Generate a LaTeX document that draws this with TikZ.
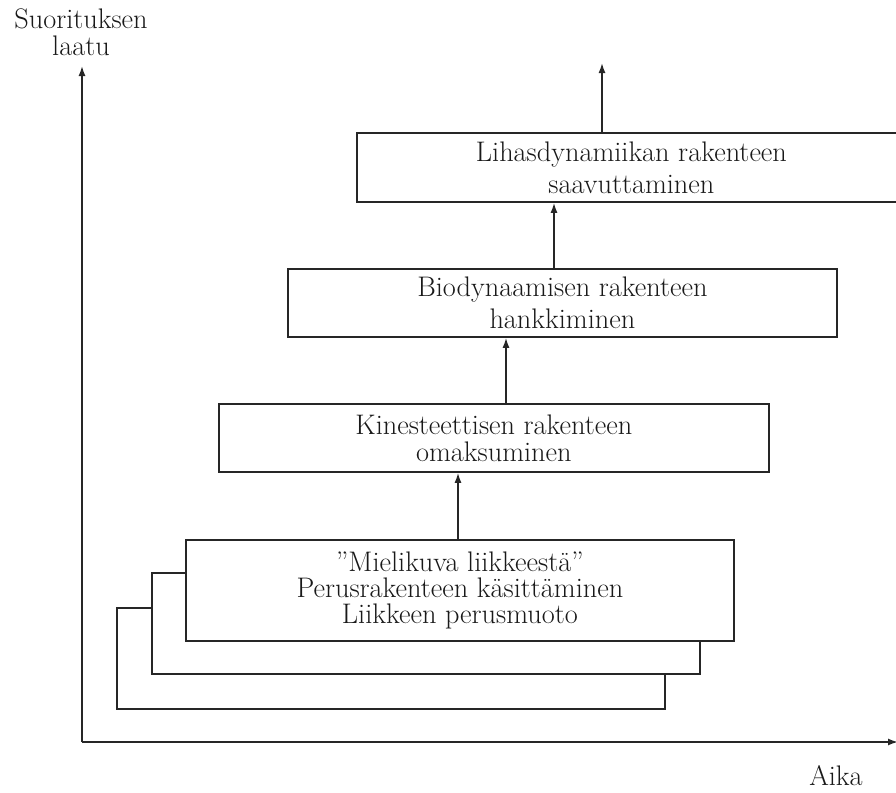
\documentclass[tikz,border=0pt]{standalone}
\usetikzlibrary{arrows.meta}
\begin{document}
\begin{tikzpicture}[x=1pt,y=-1pt,
  ink/.style={draw=black!85, line width=1.8pt},
  box/.style={ink, fill=white, anchor=north west, inner sep=0pt, align=center, text=black!90},
  txt/.style={font=\fontsize{28.3}{32}\selectfont, text=black!90, inner sep=0pt},
  arr/.style={draw=black!85, line width=1.6pt, -{Latex[length=10pt,width=7pt]}}]
\useasboundingbox (0,0) rectangle (896,792);
\clip (0,0) rectangle (896,792);
% axes
\coordinate (origin) at (82,742);
\coordinate (ytip) at (82,66);
\coordinate (xtip) at (898,742);
\draw[arr] (origin) -- (ytip);
\draw[arr] (origin) -- (xtip);
\node[txt, anchor=base] (ylab1) at (81,29) {Suorituksen};
\node[txt, anchor=base] (ylab2) at (81,56) {laatu};
\node[txt, anchor=base] (xlab) at (836,785) {Aika};
% stacked base boxes
\node[box, minimum width=548pt, minimum height=101pt] (back3) at (116,607) {};
\node[box, minimum width=548pt, minimum height=101pt] (back2) at (151,572) {};
\node[box, minimum width=548pt, minimum height=101pt, font=\fontsize{28.3}{26}\selectfont] (front) at (185,539)
  {''Mielikuva liikkeestä''\\Perusrakenteen käsittäminen\\Liikkeen perusmuoto};
% upper boxes
\node[box, minimum width=550pt, minimum height=68pt, font=\fontsize{28.3}{27}\selectfont] (kin) at (218,403)
  {Kinesteettisen rakenteen\\omaksuminen};
\node[box, minimum width=549pt, minimum height=68pt, font=\fontsize{28.3}{32}\selectfont] (bio) at (287,268)
  {Biodynaamisen rakenteen\\hankkiminen};
\node[box, minimum width=549pt, minimum height=69pt, font=\fontsize{28.3}{32}\selectfont] (lih) at (356,132)
  {Lihasdynamiikan rakenteen\\saavuttaminen};
% arrow columns
\coordinate (c1) at (458,0);
\coordinate (c2) at (506,0);
\coordinate (c3) at (554,0);
\coordinate (c4) at (602,0);
\coordinate (toptip) at (602,63);
\draw[arr] (c1 |- front.north) -- (c1 |- kin.south);
\draw[arr] (c2 |- kin.north) -- (c2 |- bio.south);
\draw[arr] (c3 |- bio.north) -- (c3 |- lih.south);
\draw[arr] (c4 |- lih.north) -- (toptip);
\end{tikzpicture}
\end{document}
